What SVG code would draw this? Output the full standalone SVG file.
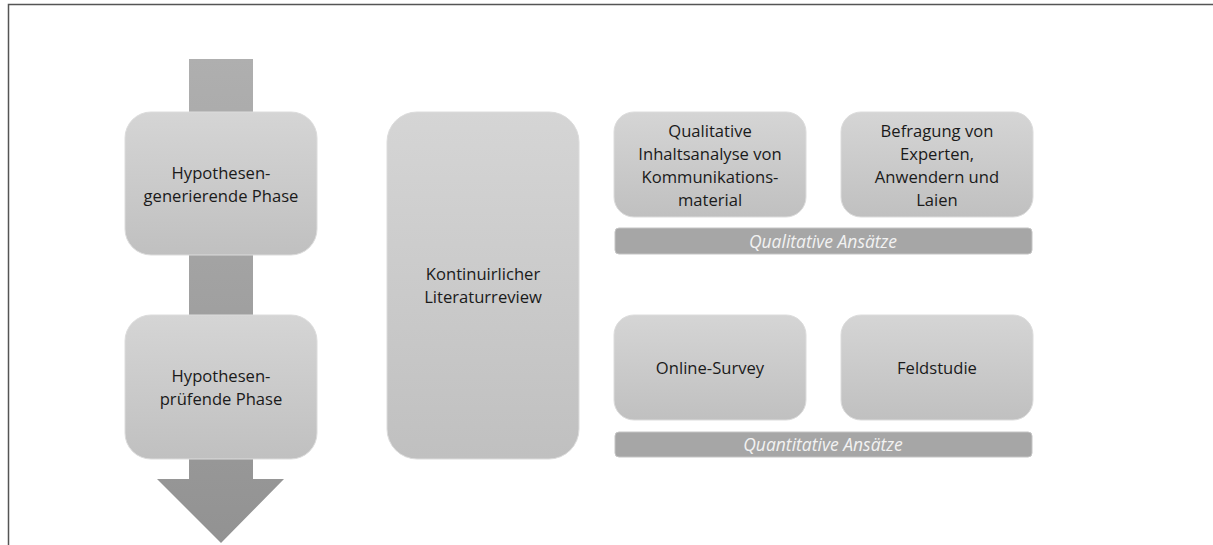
<svg xmlns="http://www.w3.org/2000/svg" width="1213" height="545" viewBox="0 0 1213 545">
  <defs>
    <linearGradient id="boxFill" x1="0" y1="0" x2="0" y2="1">
      <stop offset="0" stop-color="#d5d5d5"/>
      <stop offset="1" stop-color="#c0c0c0"/>
    </linearGradient>
    <linearGradient id="arrowFill" gradientUnits="userSpaceOnUse" x1="0" y1="59" x2="0" y2="543">
      <stop offset="0" stop-color="#afafaf"/>
      <stop offset="1" stop-color="#929292"/>
    </linearGradient>
    <style>
      .box { fill: url(#boxFill); stroke: #dcdcdc; stroke-width: 1; }
      .bar { fill: #a6a6a6; stroke: #c4c4c4; stroke-width: 1; }
      .label { font-family: "Open Sans", "Liberation Sans", sans-serif; font-size: 16.6px; fill: #1a1a1a; text-anchor: middle; }
      .barlabel { font-family: "Open Sans", "Liberation Sans", sans-serif; font-size: 17.5px; font-style: italic; fill: #f2f2f2; text-anchor: middle; }
    </style>
  </defs>

  <rect width="1213" height="545" fill="#ffffff"/>

  <!-- frame -->
  <path d="M8.5 545 V4.5 H1213" fill="none" stroke="#555555" stroke-width="1.5"/>

  <!-- downward process arrow behind the phases -->
  <g id="connectors">
    <path d="M189 59 H253 V479 H284 L221 543 L157 479 H189 Z" fill="url(#arrowFill)"/>
  </g>

  <g id="phase-generating">
    <rect class="box" x="125" y="112" width="192" height="143" rx="26"/>
    <text class="label" x="221" y="179">Hypothesen-</text>
    <text class="label" x="221" y="202">generierende Phase</text>
  </g>

  <g id="phase-testing">
    <rect class="box" x="125" y="315" width="192" height="144" rx="26"/>
    <text class="label" x="221" y="382">Hypothesen-</text>
    <text class="label" x="221" y="405">prüfende Phase</text>
  </g>

  <g id="literature-review">
    <rect class="box" x="387" y="112" width="192" height="347" rx="30"/>
    <text class="label" x="483" y="280">Kontinuirlicher</text>
    <text class="label" x="483" y="303">Literaturreview</text>
  </g>

  <g id="content-analysis">
    <rect class="box" x="614" y="112" width="192" height="105" rx="20"/>
    <text class="label" x="710" y="137">Qualitative</text>
    <text class="label" x="710" y="160">Inhaltsanalyse von</text>
    <text class="label" x="710" y="183">Kommunikations-</text>
    <text class="label" x="710" y="206">material</text>
  </g>

  <g id="survey-experts">
    <rect class="box" x="841" y="112" width="192" height="105" rx="20"/>
    <text class="label" x="937" y="137">Befragung von</text>
    <text class="label" x="937" y="160">Experten,</text>
    <text class="label" x="937" y="183">Anwendern und</text>
    <text class="label" x="937" y="206">Laien</text>
  </g>

  <g id="qualitative-bar">
    <rect class="bar" x="615" y="228" width="417" height="26" rx="4"/>
    <text class="barlabel" x="823" y="247.5">Qualitative Ansätze</text>
  </g>

  <g id="online-survey">
    <rect class="box" x="614" y="315" width="192" height="105" rx="20"/>
    <text class="label" x="710" y="374">Online-Survey</text>
  </g>

  <g id="field-study">
    <rect class="box" x="841" y="315" width="192" height="105" rx="20"/>
    <text class="label" x="937" y="374">Feldstudie</text>
  </g>

  <g id="quantitative-bar">
    <rect class="bar" x="615" y="432" width="417" height="25" rx="4"/>
    <text class="barlabel" x="823" y="450.5">Quantitative Ansätze</text>
  </g>
</svg>
